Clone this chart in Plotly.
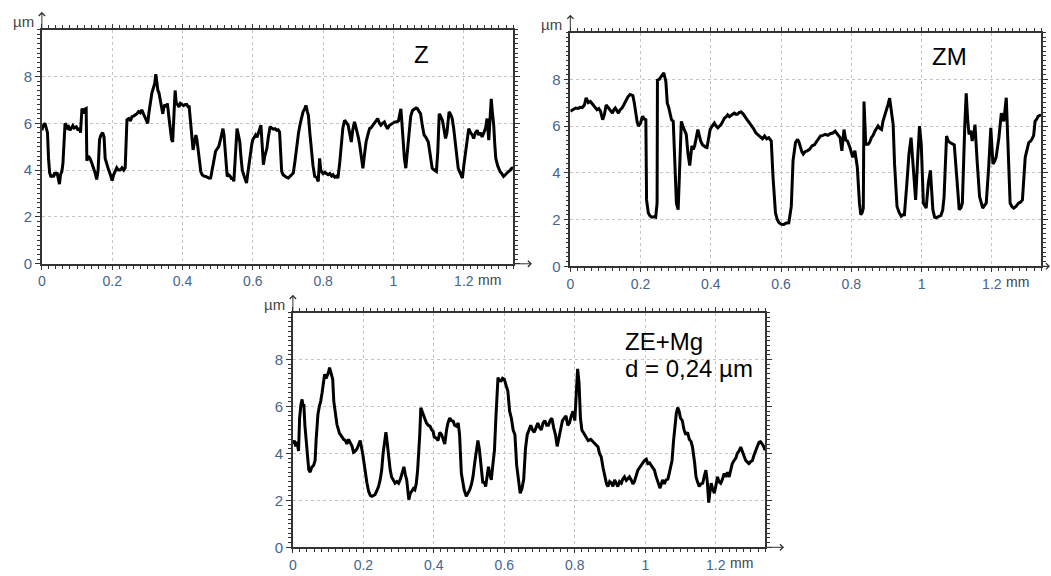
import plotly.graph_objects as go

# =========================
# Data (profiles, x in mm, height in µm)
# =========================
z_x = [0.000, 0.004, 0.009, 0.013, 0.016, 0.019, 0.022, 0.026, 0.030, 0.033, 0.037, 0.040, 0.043, 0.046, 0.050,
       0.053, 0.057, 0.060, 0.063, 0.066, 0.070, 0.073, 0.076, 0.080, 0.084, 0.088, 0.092, 0.098, 0.103, 0.107,
       0.110, 0.114, 0.118, 0.122, 0.126, 0.128, 0.132, 0.137, 0.142, 0.147, 0.151, 0.156, 0.160, 0.164, 0.168,
       0.173, 0.177, 0.180, 0.185, 0.190, 0.195, 0.200, 0.204, 0.208, 0.213, 0.218, 0.223, 0.228, 0.233, 0.237,
       0.240, 0.242, 0.247, 0.252, 0.256, 0.261, 0.265, 0.270, 0.275, 0.280, 0.284, 0.289, 0.294, 0.298, 0.301,
       0.305, 0.308, 0.313, 0.318, 0.321, 0.324, 0.327, 0.330, 0.333, 0.336, 0.340, 0.344, 0.347, 0.350, 0.354,
       0.357, 0.361, 0.365, 0.369, 0.372, 0.376, 0.379, 0.382, 0.386, 0.390, 0.394, 0.398, 0.403, 0.408, 0.412,
       0.416, 0.419, 0.422, 0.425, 0.428, 0.430, 0.434, 0.438, 0.441, 0.444, 0.448, 0.452, 0.456, 0.460, 0.466,
       0.471, 0.476, 0.480, 0.484, 0.489, 0.494, 0.498, 0.503, 0.508, 0.512, 0.515, 0.518, 0.520, 0.523, 0.527,
       0.531, 0.536, 0.540, 0.543, 0.546, 0.549, 0.552, 0.555, 0.559, 0.563, 0.566, 0.570, 0.574, 0.578, 0.582,
       0.586, 0.590, 0.593, 0.597, 0.600, 0.604, 0.608, 0.612, 0.616, 0.619, 0.623, 0.626, 0.630, 0.634, 0.637,
       0.640, 0.644, 0.649, 0.653, 0.658, 0.663, 0.668, 0.672, 0.676, 0.679, 0.682, 0.686, 0.690, 0.695, 0.701,
       0.706, 0.711, 0.715, 0.720, 0.725, 0.730, 0.735, 0.739, 0.743, 0.747, 0.751, 0.755, 0.758, 0.762, 0.767,
       0.771, 0.776, 0.781, 0.786, 0.788, 0.790, 0.793, 0.795, 0.800, 0.805, 0.809, 0.814, 0.819, 0.824, 0.828,
       0.833, 0.838, 0.842, 0.847, 0.852, 0.856, 0.861, 0.866, 0.871, 0.875, 0.880, 0.884, 0.889, 0.892, 0.896,
       0.900, 0.904, 0.908, 0.913, 0.917, 0.922, 0.927, 0.932, 0.936, 0.941, 0.946, 0.950, 0.955, 0.960, 0.964,
       0.969, 0.974, 0.978, 0.983, 0.988, 0.992, 0.997, 1.003, 1.009, 1.014, 1.018, 1.021, 1.024, 1.027, 1.031,
       1.035, 1.040, 1.045, 1.049, 1.054, 1.060, 1.064, 1.068, 1.072, 1.077, 1.082, 1.087, 1.092, 1.096, 1.099,
       1.104, 1.108, 1.110, 1.116, 1.122, 1.126, 1.130, 1.134, 1.139, 1.143, 1.148, 1.152, 1.155, 1.158, 1.162,
       1.167, 1.171, 1.175, 1.180, 1.184, 1.189, 1.192, 1.196, 1.200, 1.205, 1.209, 1.214, 1.219, 1.224, 1.228,
       1.233, 1.238, 1.242, 1.247, 1.252, 1.257, 1.262, 1.266, 1.269, 1.271, 1.275, 1.278, 1.281, 1.285, 1.288,
       1.291, 1.296, 1.300, 1.303, 1.308, 1.313, 1.318, 1.323, 1.327, 1.332, 1.336, 1.340]
z_y = [5.7, 5.9, 6.0, 5.8, 5.6, 4.5, 3.9, 3.7, 3.8, 3.7, 3.9, 3.8, 3.9, 3.7, 3.4,
       3.8, 3.95, 4.3, 5.2, 6.0, 5.9, 5.8, 5.85, 5.7, 5.8, 5.9, 5.8, 5.85, 5.7, 5.8,
       5.6, 6.63, 6.42, 6.6, 6.63, 4.4, 4.6, 4.5, 4.3, 4.1, 3.9, 3.6, 4.0, 5.3, 5.5,
       5.6, 5.4, 4.5, 4.2, 4.0, 3.8, 3.55, 3.8, 3.96, 4.1, 4.0, 4.0, 4.1, 4.0, 4.1,
       5.0, 6.15, 6.2, 6.1, 6.28, 6.3, 6.35, 6.4, 6.5, 6.45, 6.57, 6.4, 6.2, 6.1, 6.0,
       6.5, 6.9, 7.3, 7.55, 7.7, 8.1, 7.6, 7.4, 7.3, 7.05, 6.7, 6.4, 6.7, 6.8, 6.7,
       6.85, 6.3, 5.8, 5.3, 5.2, 6.5, 7.4, 6.9, 6.8, 6.7, 6.85, 6.8, 6.75, 6.8, 6.8,
       6.7, 6.7, 6.2, 5.63, 5.2, 4.86, 5.2, 5.5, 5.3, 4.93, 4.3, 3.94, 3.8, 3.75, 3.73,
       3.7, 3.65, 3.66, 4.0, 4.5, 4.8, 4.9, 5.0, 5.3, 5.6, 5.77, 5.5, 5.07, 4.3, 3.73,
       3.8, 3.73, 3.6, 3.7, 3.52, 4.2, 5.1, 5.77, 5.5, 5.2, 4.6, 4.0, 3.8, 3.6, 3.45,
       3.9, 4.4, 4.8, 5.1, 5.3, 5.42, 5.5, 5.4, 5.56, 5.7, 5.92, 5.2, 4.23, 4.6, 4.8,
       4.93, 5.4, 5.85, 5.8, 5.75, 5.77, 5.7, 5.72, 5.63, 4.8, 3.94, 3.8, 3.75, 3.7, 3.66,
       3.75, 3.8, 3.87, 4.4, 5.07, 5.6, 6.0, 6.27, 6.5, 6.6, 6.76, 6.5, 6.34, 5.6, 4.8,
       4.2, 3.73, 3.7, 3.52, 3.9, 4.5, 4.0, 3.94, 3.85, 3.9, 3.87, 3.8, 3.85, 3.75, 3.8,
       3.7, 3.75, 3.66, 4.3, 5.2, 5.8, 6.13, 6.0, 5.92, 5.6, 5.2, 5.7, 6.06, 5.9, 5.7,
       5.4, 5.07, 4.5, 4.08, 4.6, 5.2, 5.5, 5.77, 5.8, 5.92, 6.0, 6.1, 6.2, 6.0, 5.92,
       6.0, 6.06, 5.9, 5.77, 5.9, 5.95, 6.0, 6.05, 6.06, 6.1, 6.4, 6.62, 6.0, 5.2, 4.5,
       4.08, 5.0, 5.92, 6.3, 6.55, 6.6, 6.65, 6.62, 6.5, 6.4, 5.9, 5.5, 5.4, 5.3, 5.2,
       4.7, 4.2, 4.08, 4.0, 3.94, 4.8, 6.4, 6.3, 6.13, 5.8, 5.35, 5.6, 6.2, 6.48, 6.4,
       6.2, 5.8, 5.2, 4.6, 4.08, 3.9, 3.8, 3.66, 4.2, 4.8, 5.4, 5.77, 5.6, 5.5, 5.35,
       5.6, 5.7, 5.5, 5.6, 5.42, 5.6, 5.8, 6.2, 5.7, 5.28, 6.3, 7.04, 6.5, 5.92, 5.1,
       4.5, 4.2, 4.0, 3.94, 3.85, 3.73, 3.8, 3.9, 3.94, 4.0, 4.08, 4.1]

zm_x = [0.000, 0.008, 0.015, 0.022, 0.028, 0.034, 0.040, 0.045, 0.051, 0.057, 0.062, 0.067, 0.072, 0.076, 0.081,
        0.086, 0.092, 0.097, 0.102, 0.107, 0.111, 0.116, 0.120, 0.124, 0.128, 0.133, 0.137, 0.142, 0.147, 0.152,
        0.158, 0.164, 0.170, 0.174, 0.178, 0.182, 0.186, 0.190, 0.194, 0.197, 0.200, 0.203, 0.206, 0.210, 0.215,
        0.217, 0.222, 0.227, 0.232, 0.238, 0.243, 0.247, 0.248, 0.253, 0.258, 0.262, 0.266, 0.272, 0.276, 0.280,
        0.283, 0.288, 0.293, 0.297, 0.302, 0.307, 0.312, 0.316, 0.320, 0.324, 0.330, 0.335, 0.340, 0.346, 0.350,
        0.354, 0.358, 0.363, 0.367, 0.371, 0.376, 0.380, 0.385, 0.389, 0.394, 0.398, 0.404, 0.410, 0.415, 0.420,
        0.425, 0.429, 0.434, 0.439, 0.444, 0.448, 0.453, 0.457, 0.462, 0.467, 0.472, 0.476, 0.481, 0.486, 0.493,
        0.500, 0.507, 0.514, 0.521, 0.528, 0.535, 0.542, 0.547, 0.553, 0.559, 0.565, 0.572, 0.577, 0.584, 0.589,
        0.594, 0.601, 0.608, 0.615, 0.622, 0.629, 0.634, 0.641, 0.647, 0.651, 0.655, 0.659, 0.663, 0.668, 0.674,
        0.681, 0.688, 0.695, 0.702, 0.707, 0.712, 0.719, 0.726, 0.733, 0.740, 0.747, 0.754, 0.758, 0.763, 0.768,
        0.773, 0.779, 0.784, 0.789, 0.796, 0.804, 0.810, 0.817, 0.823, 0.827, 0.831, 0.834, 0.836, 0.841, 0.848,
        0.852, 0.857, 0.862, 0.867, 0.871, 0.876, 0.881, 0.886, 0.890, 0.895, 0.900, 0.904, 0.909, 0.914, 0.919,
        0.923, 0.930, 0.936, 0.942, 0.947, 0.951, 0.958, 0.964, 0.970, 0.977, 0.983, 0.989, 0.994, 0.999, 1.005,
        1.013, 1.019, 1.025, 1.032, 1.037, 1.041, 1.048, 1.055, 1.060, 1.064, 1.071, 1.076, 1.081, 1.087, 1.093,
        1.100, 1.107, 1.112, 1.116, 1.123, 1.127, 1.131, 1.135, 1.140, 1.144, 1.148, 1.152, 1.158, 1.165, 1.170,
        1.174, 1.179, 1.184, 1.191, 1.197, 1.203, 1.208, 1.212, 1.216, 1.220, 1.227, 1.234, 1.241, 1.246, 1.252,
        1.257, 1.262, 1.268, 1.276, 1.282, 1.287, 1.295, 1.300, 1.305, 1.310, 1.314, 1.319, 1.323, 1.328, 1.332,
        1.336, 1.340]
zm_y = [6.63, 6.7, 6.77, 6.75, 6.8, 6.79, 6.9, 7.21, 7.0, 7.05, 6.95, 6.9, 6.8, 6.7, 6.75,
        6.63, 6.27, 6.5, 6.9, 6.8, 6.7, 6.6, 6.55, 6.7, 6.77, 6.65, 6.55, 6.7, 6.77, 6.9,
        7.1, 7.25, 7.35, 7.32, 7.3, 7.0, 6.48, 6.2, 6.0, 6.05, 6.13, 6.3, 6.42, 6.3, 6.27,
        2.84, 2.28, 2.15, 2.1, 2.12, 2.1, 2.7, 7.96, 8.0, 8.1, 8.15, 8.28, 7.9, 6.98, 6.8,
        6.63, 6.27, 6.2, 4.66, 2.7, 2.42, 4.66, 6.2, 6.0, 5.85, 5.64, 4.8, 4.31, 5.15, 5.0,
        5.15, 5.4, 5.85, 5.6, 5.36, 5.2, 5.15, 5.1, 5.08, 5.5, 5.85, 6.0, 6.13, 6.0, 5.92,
        6.0, 6.06, 6.2, 6.34, 6.4, 6.48, 6.4, 6.46, 6.5, 6.55, 6.5, 6.51, 6.58, 6.6, 6.5,
        6.34, 6.2, 6.06, 5.9, 5.71, 5.6, 5.5, 5.45, 5.57, 5.45, 5.5, 5.36, 3.82, 2.28, 2.0,
        1.86, 1.8, 1.79, 1.85, 1.86, 2.56, 4.52, 5.29, 5.43, 5.3, 5.08, 4.9, 4.8, 4.9, 4.94,
        5.0, 5.15, 5.2, 5.36, 5.45, 5.57, 5.6, 5.64, 5.6, 5.67, 5.7, 5.78, 5.7, 5.57, 5.5,
        4.94, 5.85, 5.4, 5.36, 5.08, 4.66, 4.94, 4.24, 2.7, 2.2, 2.3, 2.48, 7.05, 5.22, 5.22,
        5.3, 5.5, 5.6, 5.78, 5.9, 6.0, 5.9, 5.85, 6.2, 6.42, 6.7, 6.9, 7.19, 6.6, 6.06,
        4.38, 2.56, 2.3, 2.14, 2.2, 2.2, 3.54, 4.8, 5.5, 3.96, 2.84, 4.66, 6.0, 5.22, 2.7,
        2.49, 3.54, 4.1, 2.42, 2.1, 2.07, 2.12, 2.17, 2.4, 2.98, 5.57, 5.35, 5.29, 5.25, 5.19,
        3.82, 2.42, 2.5, 2.7, 6.06, 7.4, 6.3, 5.64, 5.8, 5.36, 5.6, 6.06, 4.52, 2.98, 2.7,
        2.49, 2.6, 2.7, 4.24, 5.92, 4.38, 4.5, 4.66, 5.0, 5.5, 6.55, 6.2, 7.21, 5.36, 2.7,
        2.55, 2.49, 2.55, 2.7, 2.75, 2.84, 4.66, 5.0, 5.29, 5.35, 5.43, 5.6, 6.2, 6.3, 6.42,
        6.45, 6.48]

ze_x = [0.000, 0.004, 0.008, 0.012, 0.016, 0.019, 0.023, 0.026, 0.029, 0.031, 0.034, 0.036, 0.040, 0.045, 0.049,
        0.053, 0.059, 0.063, 0.066, 0.071, 0.075, 0.079, 0.083, 0.087, 0.090, 0.094, 0.097, 0.101, 0.104, 0.109,
        0.113, 0.116, 0.121, 0.125, 0.132, 0.139, 0.144, 0.149, 0.153, 0.158, 0.163, 0.168, 0.172, 0.177, 0.182,
        0.186, 0.191, 0.198, 0.205, 0.210, 0.215, 0.220, 0.224, 0.229, 0.233, 0.238, 0.243, 0.248, 0.252, 0.256,
        0.260, 0.264, 0.268, 0.271, 0.276, 0.280, 0.285, 0.290, 0.295, 0.300, 0.305, 0.309, 0.315, 0.319, 0.323,
        0.329, 0.333, 0.337, 0.342, 0.346, 0.350, 0.354, 0.357, 0.360, 0.363, 0.370, 0.375, 0.379, 0.384, 0.389,
        0.394, 0.398, 0.401, 0.407, 0.412, 0.417, 0.422, 0.427, 0.431, 0.436, 0.440, 0.445, 0.450, 0.455, 0.459,
        0.464, 0.469, 0.473, 0.478, 0.482, 0.486, 0.492, 0.497, 0.502, 0.507, 0.511, 0.516, 0.520, 0.525, 0.529,
        0.533, 0.539, 0.543, 0.547, 0.551, 0.555, 0.559, 0.563, 0.568, 0.572, 0.576, 0.579, 0.582, 0.586, 0.591,
        0.595, 0.600, 0.605, 0.610, 0.615, 0.620, 0.625, 0.630, 0.635, 0.640, 0.645, 0.650, 0.655, 0.660, 0.665,
        0.670, 0.675, 0.680, 0.685, 0.690, 0.695, 0.700, 0.705, 0.710, 0.715, 0.720, 0.725, 0.730, 0.735, 0.740,
        0.745, 0.750, 0.755, 0.760, 0.765, 0.770, 0.775, 0.780, 0.785, 0.790, 0.795, 0.800, 0.804, 0.808, 0.812,
        0.816, 0.820, 0.824, 0.828, 0.833, 0.838, 0.845, 0.852, 0.859, 0.866, 0.870, 0.875, 0.880, 0.885, 0.890,
        0.894, 0.899, 0.904, 0.908, 0.913, 0.918, 0.922, 0.927, 0.932, 0.936, 0.941, 0.946, 0.951, 0.955, 0.960,
        0.965, 0.969, 0.974, 0.979, 0.984, 0.988, 0.993, 0.998, 1.003, 1.007, 1.012, 1.016, 1.021, 1.026, 1.031,
        1.035, 1.042, 1.049, 1.054, 1.059, 1.064, 1.068, 1.072, 1.076, 1.080, 1.084, 1.088, 1.092, 1.096, 1.100,
        1.105, 1.110, 1.115, 1.120, 1.125, 1.130, 1.134, 1.140, 1.144, 1.148, 1.153, 1.158, 1.163, 1.167, 1.172,
        1.176, 1.180, 1.183, 1.187, 1.191, 1.196, 1.200, 1.205, 1.209, 1.214, 1.219, 1.224, 1.228, 1.233, 1.238,
        1.242, 1.247, 1.252, 1.257, 1.261, 1.266, 1.271, 1.276, 1.280, 1.285, 1.290, 1.294, 1.299, 1.304, 1.308,
        1.313, 1.318, 1.323, 1.327, 1.332, 1.336, 1.340]
ze_y = [4.4, 4.55, 4.3, 4.5, 4.1, 5.5, 6.1, 6.3, 6.0, 6.1, 5.2, 4.8, 4.0, 3.3, 3.2,
        3.4, 3.5, 3.7, 4.6, 5.66, 6.0, 6.23, 6.6, 6.94, 7.37, 7.2, 7.3, 7.45, 7.66, 7.3,
        7.16, 6.23, 5.7, 5.23, 4.87, 4.68, 4.6, 4.55, 4.4, 4.6, 4.48, 4.3, 4.05, 4.1, 4.2,
        4.4, 4.55, 4.0, 3.15, 2.75, 2.38, 2.2, 2.17, 2.2, 2.24, 2.4, 2.59, 2.9, 3.29, 4.0,
        4.55, 4.9, 4.4, 3.85, 3.3, 3.0, 2.85, 2.73, 2.8, 2.73, 2.9, 3.08, 3.43, 3.1, 2.87,
        2.03, 2.3, 2.38, 2.5, 2.45, 2.7, 3.29, 4.0, 4.8, 5.94, 5.66, 5.5, 5.3, 5.2, 5.16,
        5.0, 4.94, 4.7, 4.65, 4.55, 4.9, 4.8, 4.6, 4.4, 5.0, 5.3, 5.51, 5.4, 5.37, 5.2,
        5.16, 5.3, 4.8, 3.15, 2.8, 2.45, 2.17, 2.3, 2.45, 2.7, 3.0, 3.6, 4.13, 4.55, 4.2,
        3.7, 2.73, 2.8, 2.59, 3.0, 3.43, 3.1, 2.87, 3.6, 4.13, 5.5, 6.8, 7.23, 7.1, 7.09,
        7.2, 7.16, 6.9, 6.66, 5.8, 5.5, 5.0, 4.8, 3.5, 2.8, 2.3, 2.5, 2.9, 4.2, 4.8,
        5.0, 5.2, 5.0, 4.9, 5.1, 5.3, 5.1, 5.0, 5.3, 5.4, 5.2, 5.2, 5.4, 5.5, 5.1,
        4.8, 4.3, 4.7, 5.0, 5.4, 5.5, 5.6, 5.2, 5.3, 5.6, 5.8, 5.4, 6.5, 7.6, 7.0,
        5.5, 5.0, 4.9, 4.8, 4.7, 4.55, 4.6, 4.5, 4.4, 4.27, 4.0, 3.85, 3.4, 3.0, 2.7,
        2.59, 2.8, 2.73, 2.6, 2.87, 2.7, 2.59, 2.8, 2.73, 2.9, 3.0, 2.85, 2.94, 3.0, 2.87,
        2.7, 2.8, 3.0, 3.29, 3.4, 3.5, 3.6, 3.7, 3.75, 3.57, 3.6, 3.5, 3.4, 3.29, 3.0,
        2.8, 2.52, 2.87, 2.7, 2.87, 2.9, 3.15, 3.4, 3.7, 4.5, 5.3, 5.7, 5.95, 5.8, 5.5,
        5.4, 5.0, 4.8, 4.9, 4.6, 4.5, 4.27, 3.6, 3.0, 2.8, 2.59, 2.7, 2.73, 3.0, 3.29,
        2.8, 1.9, 2.3, 2.73, 2.5, 2.31, 2.6, 3.0, 2.8, 2.73, 2.9, 3.15, 3.0, 3.2, 3.0,
        3.3, 3.57, 3.7, 3.8, 4.0, 4.1, 4.27, 4.0, 3.9, 3.7, 3.6, 3.57, 3.65, 3.7, 3.9,
        4.13, 4.3, 4.48, 4.5, 4.4, 4.3, 4.13]

x_ticks = [0, 0.2, 0.4, 0.6, 0.8, 1.0, 1.2]
x_labels = ["0", "0.2", "0.4", "0.6", "0.8", "1", "1.2"]
y_ticks = [0, 2, 4, 6, 8]
y_labels = ["0", "2", "4", "6", "8"]
X_MAX = 1.34
Y_MAX = 10

W, H = 1051, 576
FONT = "Liberation Sans, Arial, sans-serif"
TICK_COLOR = "#46648c"
AXIS_COLOR = "#333333"


def px_x(p):
    return p / W


def px_y(p):
    return 1 - p / H


# panel boxes in pixels: left, right, top, bottom
panels = [
    (38, 511, 30, 267.5),
    (568.5, 1041, 33, 270),
    (290, 764, 317, 555),
]


def x_axis(box, anchor):
    return dict(
        domain=[px_x(box[0]), px_x(box[1])], anchor=anchor,
        range=[0, X_MAX], tickmode="array", tickvals=x_ticks, ticktext=x_labels,
        showgrid=True, gridcolor="#c4c4c4", griddash="dot", gridwidth=1,
        showline=True, linecolor=AXIS_COLOR, linewidth=1.5, mirror="allticks",
        ticks="outside", ticklen=4, tickcolor=AXIS_COLOR, tickwidth=1,
        minor=dict(tickmode="linear", tick0=0, dtick=0.02, ticks="outside",
                   ticklen=3, tickcolor=AXIS_COLOR, showgrid=False),
        tickfont=dict(family=FONT, size=14, color=TICK_COLOR),
        zeroline=False, fixedrange=True,
    )


def y_axis(box, anchor):
    return dict(
        domain=[px_y(box[3]), px_y(box[2])], anchor=anchor,
        range=[0, Y_MAX], tickmode="array", tickvals=y_ticks, ticktext=y_labels,
        showgrid=True, gridcolor="#c4c4c4", griddash="dot", gridwidth=1,
        showline=True, linecolor=AXIS_COLOR, linewidth=1.5, mirror="allticks",
        ticks="outside", ticklen=5, tickcolor=AXIS_COLOR, tickwidth=1,
        minor=dict(tickmode="linear", tick0=0, dtick=0.2, ticks="outside",
                   ticklen=3, tickcolor=AXIS_COLOR, showgrid=False),
        tickfont=dict(family=FONT, size=15, color=TICK_COLOR),
        zeroline=False, fixedrange=True,
    )


def label(x, y, text, size=24, xanchor="center"):
    return dict(x=px_x(x), y=px_y(y), xref="paper", yref="paper", text=text,
                showarrow=False, xanchor=xanchor, yanchor="middle",
                font=dict(family=FONT, size=size, color="black"))


# =========================
# Figure
# =========================
fig = go.Figure()

series = [(z_x, z_y), (zm_x, zm_y), (ze_x, ze_y)]
layout_axes = {}
annotations = []
for i, (box, (xs, ys)) in enumerate(zip(panels, series), start=1):
    sx = "" if i == 1 else str(i)
    fig.add_trace(go.Scatter(
        x=xs, y=ys, mode="lines", xaxis="x" + sx, yaxis="y" + sx,
        line=dict(color="black", width=3), hoverinfo="skip", showlegend=False,
    ))
    layout_axes["xaxis" + sx] = x_axis(box, "y" + sx)
    layout_axes["yaxis" + sx] = y_axis(box, "x" + sx)

    left, right, top, bottom = box
    # arrow on the y axis
    annotations.append(dict(
        x=px_x(left), y=px_y(top - 18), xref="paper", yref="paper",
        ax=0, ay=18, axref="pixel", ayref="pixel", text="", showarrow=True,
        arrowhead=4, arrowsize=1.2, arrowwidth=1, arrowcolor="#333333",
    ))
    # arrow on the x axis
    annotations.append(dict(
        x=px_x(right + 19), y=px_y(bottom), xref="paper", yref="paper",
        ax=-19, ay=0, text="", showarrow=True,
        arrowhead=4, arrowsize=1.2, arrowwidth=1, arrowcolor="#333333",
    ))
    # units
    annotations.append(dict(
        x=px_x(left - 6), y=px_y(top - 8), xref="paper", yref="paper",
        text="µm", showarrow=False, xanchor="right", yanchor="middle",
        font=dict(family=FONT, size=15, color="#444444"),
    ))
    annotations.append(dict(
        x=px_x(left + 1.2 * (right - left) / X_MAX + 12), y=px_y(bottom + 16),
        xref="paper", yref="paper", text="mm", showarrow=False,
        xanchor="left", yanchor="middle",
        font=dict(family=FONT, size=14, color="#444444"),
    ))

# panel names
annotations.append(label(419, 55, "Z"))
annotations.append(label(949, 57, "ZM"))
annotations.append(label(621, 346, "ZE+Mg", xanchor="left"))
annotations.append(label(621, 374, "d = 0,24 µm", xanchor="left"))

fig.update_layout(
    width=W, height=H, autosize=False,
    margin=dict(l=0, r=0, t=0, b=0),
    paper_bgcolor="white", plot_bgcolor="white",
    showlegend=False,
    annotations=annotations,
    **layout_axes,
)

# the page keeps the browser's default 8px body margin otherwise
fig.write_html("out.html", config={"displayModeBar": False},
               post_script="document.body.style.margin = '0';")
